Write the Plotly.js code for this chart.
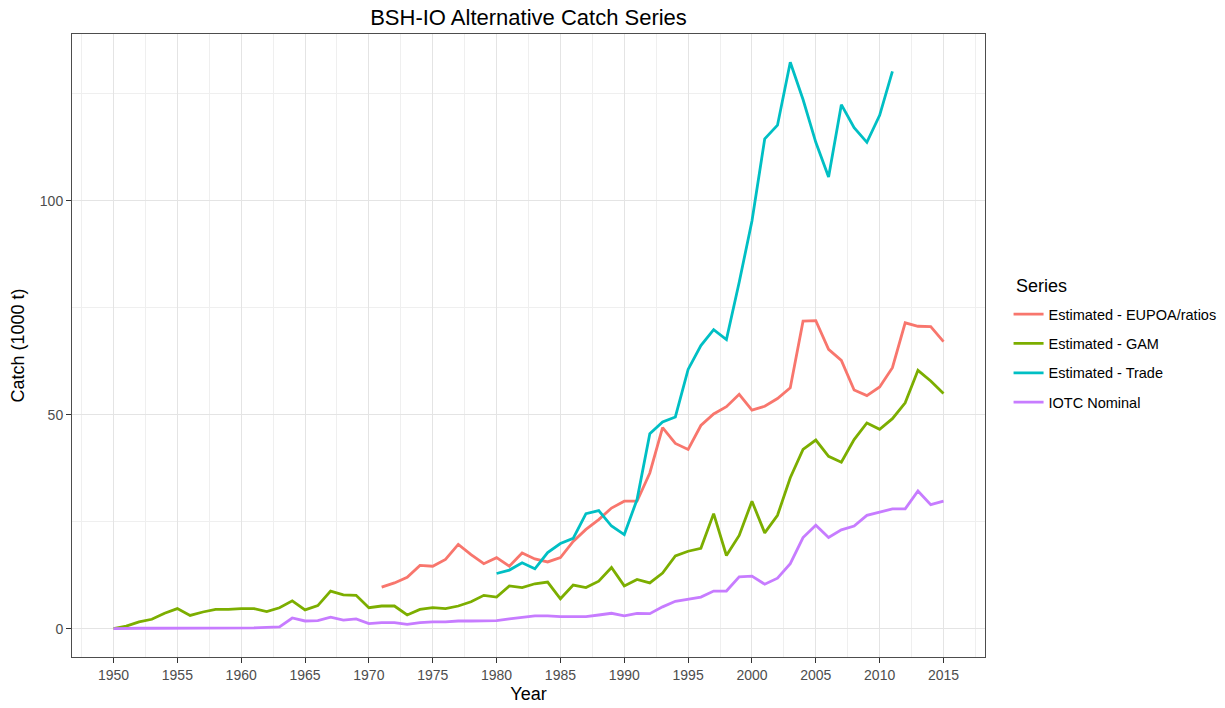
<!DOCTYPE html>
<html>
<head>
<meta charset="utf-8">
<script src="https://cdn.plot.ly/plotly-3.0.1.min.js"></script>
<style>html,body{margin:0;padding:0;background:#fff;}#chart{width:1225px;height:708px;}</style>
</head>
<body>
<div id="chart"></div>
<script>
// Data (catch in 1000 t)
const yearsGAM = [];
for (let y = 1950; y <= 2015; y++) yearsGAM.push(y);
const yearsIOTC = yearsGAM.slice();
const yearsEUPOA = yearsGAM.filter(y => y >= 1971);
const yearsTrade = yearsGAM.filter(y => y >= 1980 && y <= 2011);

const catchEUPOA = [9.7, 10.7, 12.0, 14.8, 14.6, 16.2, 19.7, 17.3, 15.2, 16.6,
  14.6, 17.7, 16.3, 15.6, 16.6, 20.4, 23.2, 25.5, 28.2, 29.8,
  29.8, 36.4, 47.0, 43.3, 41.9, 47.5, 50.2, 51.9, 54.8, 51.1,
  52.0, 53.8, 56.3, 71.9, 72.0, 65.3, 62.7, 55.8, 54.5, 56.5,
  61.0, 71.5, 70.7, 70.6, 67.1];

const catchGAM = [0, 0.6, 1.6, 2.2, 3.6, 4.7, 3.1, 3.9, 4.5, 4.5,
  4.7, 4.7, 4.0, 4.9, 6.5, 4.4, 5.4, 8.8, 7.9, 7.8,
  4.9, 5.3, 5.3, 3.2, 4.5, 4.9, 4.7, 5.3, 6.3, 7.8,
  7.4, 10.0, 9.6, 10.5, 10.9, 7.0, 10.2, 9.6, 11.1, 14.3,
  10.0, 11.5, 10.7, 13.0, 17.0, 18.1, 18.8, 26.9, 17.1, 21.8,
  29.8, 22.4, 26.5, 35.3, 41.9, 44.1, 40.3, 38.9, 44.2, 48.1,
  46.6, 49.1, 52.8, 60.4, 57.9, 55.0];

const catchTrade = [12.9, 13.7, 15.4, 14.0, 17.8, 19.9, 21.1, 26.9, 27.6, 24.0,
  22.0, 30.2, 45.6, 48.3, 49.5, 60.6, 66.2, 69.9, 67.6, 81.0,
  95.3, 114.5, 117.7, 132.4, 123.7, 113.7, 105.6, 122.5, 117.1, 113.7,
  120.0, 130.3];

const catchIOTC = [0, 0.1, 0.1, 0.1, 0.1, 0.2, 0.2, 0.2, 0.2, 0.2,
  0.2, 0.2, 0.3, 0.4, 2.5, 1.8, 1.9, 2.7, 2.0, 2.3,
  1.2, 1.4, 1.4, 1.0, 1.4, 1.6, 1.6, 1.8, 1.8, 1.8,
  1.9, 2.3, 2.7, 3.0, 3.0, 2.8, 2.8, 2.8, 3.2, 3.6,
  3.0, 3.6, 3.5, 5.1, 6.4, 6.9, 7.4, 8.8, 8.8, 12.1,
  12.3, 10.4, 11.8, 15.2, 21.3, 24.2, 21.3, 23.1, 24.0, 26.5,
  27.3, 28.0, 28.0, 32.2, 29.0, 29.8];

const seriesNames = ["Estimated - EUPOA/ratios", "Estimated - GAM", "Estimated - Trade", "IOTC Nominal"];
const seriesColors = ["#F8766D", "#7CAE00", "#00BFC4", "#C77CFF"];
const xTicks = [1950, 1955, 1960, 1965, 1970, 1975, 1980, 1985, 1990, 1995, 2000, 2005, 2010, 2015];
const yTicks = [0, 50, 100];

const xs = [yearsEUPOA, yearsGAM, yearsTrade, yearsIOTC];
const ys = [catchEUPOA, catchGAM, catchTrade, catchIOTC];

const font = "Liberation Sans, Arial, sans-serif";
const traces = seriesNames.map((n, i) => ({
  type: "scatter", mode: "lines", name: n, legendgroup: "g" + i,
  x: xs[i], y: ys[i],
  line: {color: seriesColors[i], width: 2.8}
}));

const layout = {
  width: 1225, height: 708,
  paper_bgcolor: "#fff", plot_bgcolor: "#fff",
  margin: {l: 72, r: 240, t: 34, b: 51, autoexpand: false},
  font: {family: font, color: "#000"},
  title: {text: "BSH-IO Alternative Catch Series", font: {size: 22, color: "#000"},
          x: 0.5, xref: "paper", xanchor: "center", y: 1 - 17/708, yref: "container", yanchor: "middle"},
  xaxis: {
    range: [1946.75, 2018.25], tickmode: "array", tickvals: xTicks, ticktext: xTicks.map(String),
    showgrid: true, gridcolor: "#e4e4e4", gridwidth: 1,
    minor: {tickmode: "array", tickvals: xTicks.map(v => v - 2.5).concat([2017.5]), showgrid: true, gridcolor: "#efefef", gridwidth: 1},
    ticks: "outside", ticklen: 5, tickcolor: "#333", tickwidth: 1,
    tickfont: {size: 14, color: "#4d4d4d"},
    showline: true, mirror: true, linecolor: "#4d4d4d", linewidth: 1,
    zeroline: false,
    title: {text: "Year", font: {size: 18, color: "#000"}, standoff: 5}
  },
  yaxis: {
    range: [-6.62, 139.02], tickmode: "array", tickvals: yTicks, ticktext: yTicks.map(String),
    showgrid: true, gridcolor: "#e4e4e4", gridwidth: 1,
    minor: {tickmode: "array", tickvals: [25, 75, 125], showgrid: true, gridcolor: "#efefef", gridwidth: 1},
    ticks: "outside", ticklen: 5, tickcolor: "#333", tickwidth: 1,
    tickfont: {size: 14, color: "#4d4d4d"},
    showline: true, mirror: true, linecolor: "#4d4d4d", linewidth: 1,
    zeroline: false,
    title: {text: "Catch (1000 t)", font: {size: 18, color: "#000"}, standoff: 10}
  },
  showlegend: true,
  legend: {
    x: 1.0258, xanchor: "left", y: 0.576, yanchor: "top",
    font: {size: 14.5, color: "#000"},
    tracegroupgap: 7.5, bgcolor: "rgba(0,0,0,0)", borderwidth: 0
  },
  annotations: [{
    text: "Series", xref: "paper", yref: "paper", x: 1.0318, y: 0.5955,
    xanchor: "left", yanchor: "middle", showarrow: false,
    font: {size: 18, color: "#000"}
  }]
};

Plotly.newPlot("chart", traces, layout, {displayModeBar: false, staticPlot: true});
</script>
</body>
</html>
